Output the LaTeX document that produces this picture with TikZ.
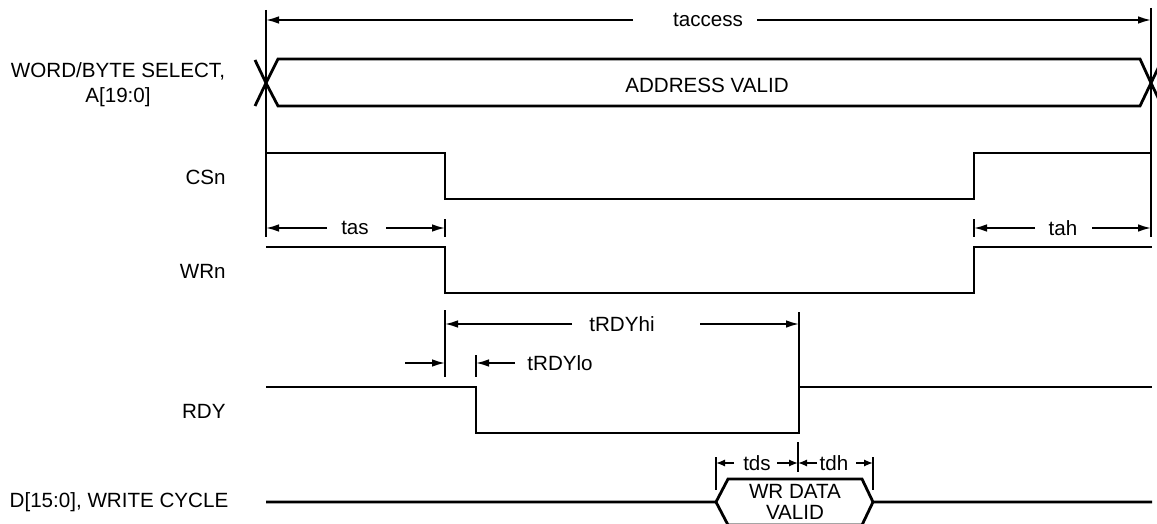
\documentclass[tikz,border=0pt]{standalone}
\usepackage{fontspec}
\setmainfont{Liberation Sans}
\usetikzlibrary{arrows.meta}
\begin{document}
\begin{tikzpicture}[x=0.5pt,y=-0.5pt,
  every node/.style={font=\fontsize{10.3}{12.4}\selectfont, inner sep=0pt},
  sig/.style={line width=1.4pt, line join=miter},
  refline/.style={line width=1pt},
  tick/.style={line width=0.7pt},
  dimarrow/.style={line width=0.8pt, -{Latex[length=6.5pt,width=3.8pt]}},
  smallarrow/.style={line width=0.8pt, -{Latex[length=4.5pt,width=3.6pt]}},
  lbl/.style={anchor=east, align=center}]
\useasboundingbox (0,0) rectangle (1157,524);

% signal labels
\node[align=center] (lA) at (118,85) {WORD/BYTE SELECT,\\A[19:0]};
\node[lbl] (lCS) at (226,177) {CSn};
\node[lbl] (lWR) at (226,271) {WRn};
\node[lbl] (lRDY) at (226,411) {RDY};
\node[align=center] (lD) at (119,502) {D[15:0], WRITE CYCLE};

% reference lines
\coordinate (L1) at (266,10);
\coordinate (L2) at (266,237);
\coordinate (R1) at (1151,8);
\coordinate (R2) at (1151,237);
\draw[refline] (L1) -- (L2);
\draw[refline] (R1) -- (R2);

% taccess
\node (tacc) at (708,20) {taccess};
\coordinate (taccL) at (633,20);
\coordinate (taccR) at (757,20);
\coordinate (taccLe) at (266,20);
\coordinate (taccRe) at (1151,20);
\draw[dimarrow] (taccL) -- (taccLe);
\draw[dimarrow] (taccR) -- (taccRe);

% address bus
\draw[sig] (255,60) -- (266,83) -- (278,59) -- (1140,59) -- (1151,83) -- (1162,106);
\draw[sig] (255,106) -- (266,83) -- (278,106) -- (1140,106) -- (1151,83) -- (1162,60);
\node (addr) at (707,85) {ADDRESS VALID};

% CSn
\draw[sig] (266,153) -- (445,153) -- (445,199) -- (974,199) -- (974,153) -- (1152,153);

% tas / tah
\coordinate (tasT1) at (445,219);
\coordinate (tasT2) at (445,237);
\draw[tick] (tasT1) -- (tasT2);
\node (tas) at (355,228) {tas};
\coordinate (tasL) at (327,228);
\coordinate (tasR) at (386,228);
\coordinate (tasLe) at (266,228);
\coordinate (tasRe) at (445,228);
\draw[dimarrow] (tasL) -- (tasLe);
\draw[dimarrow] (tasR) -- (tasRe);

\coordinate (tahT1) at (974,219);
\coordinate (tahT2) at (974,237);
\draw[tick] (tahT1) -- (tahT2);
\node (tah) at (1063,228) {tah};
\coordinate (tahL) at (1035,228);
\coordinate (tahR) at (1092,228);
\coordinate (tahLe) at (974,228);
\coordinate (tahRe) at (1151,228);
\draw[dimarrow] (tahL) -- (tahLe);
\draw[dimarrow] (tahR) -- (tahRe);

% WRn
\draw[sig] (266,247) -- (445,247) -- (445,293) -- (974,293) -- (974,247) -- (1152,247);

% tRDYhi
\coordinate (hiT1) at (445,310);
\coordinate (hiT2) at (445,377);
\coordinate (hiT3) at (799,312);
\coordinate (hiT4) at (799,387);
\draw[tick] (hiT1) -- (hiT2);
\draw[tick] (hiT3) -- (hiT4);
\node (thi) at (622,324) {tRDYhi};
\coordinate (hiL) at (572,324);
\coordinate (hiR) at (700,324);
\coordinate (hiLe) at (445,324);
\coordinate (hiRe) at (799,324);
\draw[dimarrow] (hiL) -- (hiLe);
\draw[dimarrow] (hiR) -- (hiRe);

% tRDYlo
\coordinate (loT1) at (476,355);
\coordinate (loT2) at (476,377);
\draw[tick] (loT1) -- (loT2);
\coordinate (loA) at (405,363);
\coordinate (loAe) at (445,363);
\draw[dimarrow] (loA) -- (loAe);
\coordinate (loB) at (515,363);
\coordinate (loBe) at (476,363);
\draw[dimarrow] (loB) -- (loBe);
\node[anchor=west] (tlo) at (527,363) {tRDYlo};

% RDY
\draw[sig] (266,387) -- (476,387) -- (476,433) -- (799,433) -- (799,387) -- (1152,387);

% D bus
\draw[sig] (266,502) -- (716,502) -- (728,479) -- (862,479) -- (873,502) -- (1152,502);
\draw[sig] (716,502) -- (728,525) -- (862,525) -- (873,502);
\node[align=center] (wrd) at (795,502) {WR DATA\\[-2pt]VALID};

% tds / tdh
\coordinate (dT1) at (716,457);
\coordinate (dT2) at (716,490);
\coordinate (dT3) at (798,442);
\coordinate (dT4) at (798,472);
\coordinate (dT5) at (873,457);
\coordinate (dT6) at (873,490);
\draw[tick] (dT1) -- (dT2);
\draw[tick] (dT3) -- (dT4);
\draw[tick] (dT5) -- (dT6);
\node (tds) at (757,463) {tds};
\node (tdh) at (834,463) {tdh};
\coordinate (dsA) at (734,463);
\coordinate (dsAe) at (716,463);
\coordinate (dsB) at (777,463);
\coordinate (dsBe) at (798,463);
\coordinate (dhA) at (817,463);
\coordinate (dhAe) at (798,463);
\coordinate (dhB) at (856,463);
\coordinate (dhBe) at (873,463);
\draw[smallarrow] (dsA) -- (dsAe);
\draw[smallarrow] (dsB) -- (dsBe);
\draw[smallarrow] (dhA) -- (dhAe);
\draw[smallarrow] (dhB) -- (dhBe);
\end{tikzpicture}
\end{document}
